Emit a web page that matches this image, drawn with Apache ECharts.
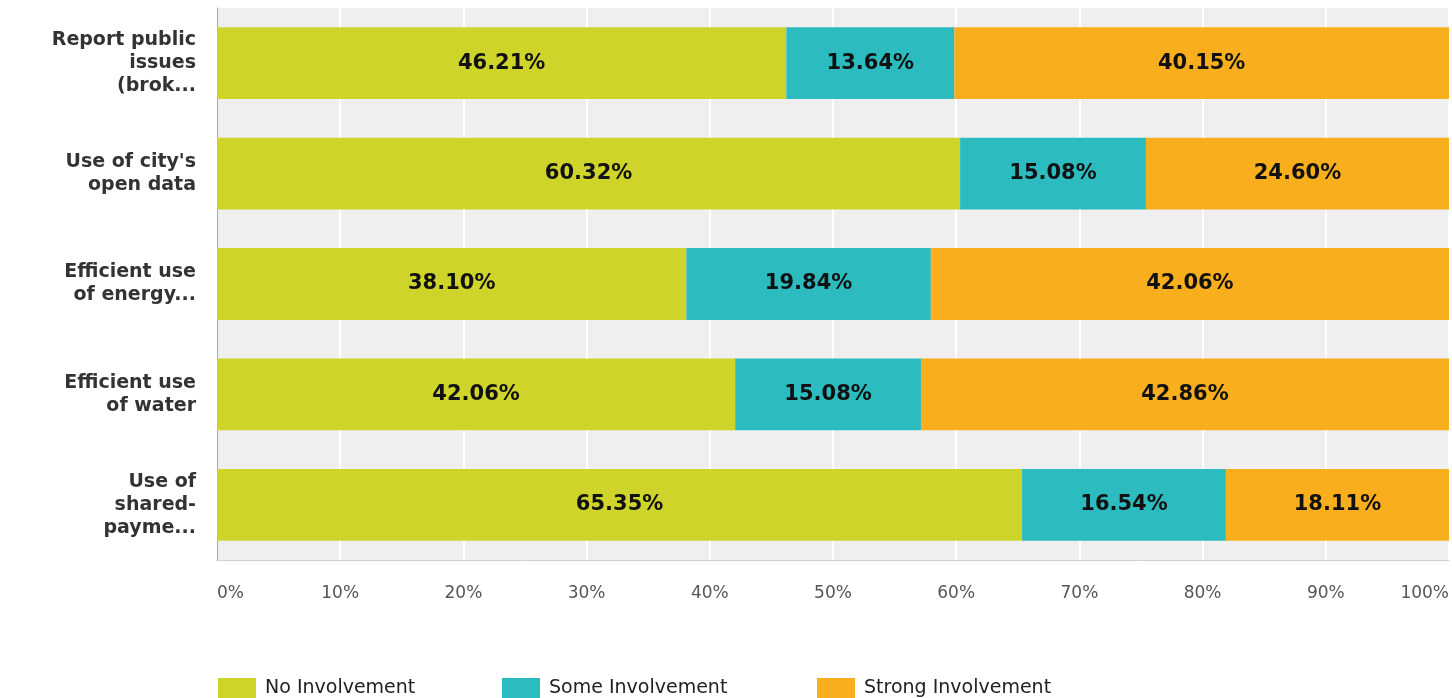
<!DOCTYPE html>
<html>
<head>
<meta charset="utf-8">
<script src="https://cdn.jsdelivr.net/npm/echarts@6/dist/echarts.min.js"></script>
<style>
  html, body { margin: 0; padding: 0; background: #fff; }
  #chart { width: 1452px; height: 698px; }
</style>
</head>
<body>
<div id="chart"></div>
<script>
// Survey topics (labels shown as they appear on the axis, wrapped and shortened)
const categories = [
  'Report public\nissues\n(brok...',
  "Use of city's\nopen data",
  'Efficient use\nof energy...',
  'Efficient use\nof water',
  'Use of\nshared-\npayme...'
];

// Share of respondents per level of involvement (%)
const noInvolvement     = [46.21, 60.32, 38.10, 42.06, 65.35];
const someInvolvement   = [13.64, 15.08, 19.84, 15.08, 16.54];
const strongInvolvement = [40.15, 24.60, 42.06, 42.86, 18.11];

const seriesNames = ['No Involvement', 'Some Involvement', 'Strong Involvement'];
const seriesColors = ['#cfd42a', '#2cbbbe', '#f9ae1d'];
const seriesValues = [noInvolvement, someInvolvement, strongInvolvement];
const legendLeft = [213, 497, 812];

const chart = echarts.init(document.getElementById('chart'));

const series = seriesNames.map((name, i) => ({
  name: name,
  type: 'bar',
  stack: 'total',
  data: seriesValues[i],
  barCategoryGap: '35%',
  itemStyle: { color: seriesColors[i] },
  label: {
    show: true,
    position: 'inside',
    formatter: p => p.value.toFixed(2) + '%',
    fontFamily: 'DejaVu Sans',
    fontWeight: 'bold',
    fontSize: 21,
    color: '#111'
  },
  emphasis: { disabled: true }
}));

chart.setOption({
  animation: false,
  backgroundColor: '#ffffff',
  grid: {
    left: 217,
    right: 2,
    top: 8,
    bottom: 138,
    show: true,
    backgroundColor: '#efefef',
    borderWidth: 0
  },
  legend: seriesNames.map((name, i) => ({
    data: [name],
    left: legendLeft[i],
    top: 673,
    itemWidth: 38,
    itemHeight: 21,
    itemGap: 0,
    icon: 'rect',
    selectedMode: false,
    textStyle: {
      fontFamily: 'DejaVu Sans',
      fontSize: 19,
      color: '#222',
      padding: [0, 0, 0, 4]
    }
  })),
  xAxis: {
    type: 'value',
    min: 0,
    max: 100,
    interval: 10,
    axisLine: { show: true, lineStyle: { color: '#cfcfd8', width: 1 } },
    axisTick: { show: false },
    splitLine: { show: true, lineStyle: { color: '#ffffff', width: 2 } },
    axisLabel: {
      formatter: '{value}%',
      margin: 25,
      fontFamily: 'DejaVu Sans',
      fontSize: 17,
      color: '#555',
      alignMinLabel: 'left',
      alignMaxLabel: 'right'
    }
  },
  yAxis: {
    type: 'category',
    data: categories,
    inverse: true,
    axisLine: { show: true, lineStyle: { color: '#a8a8a8', width: 1 } },
    axisTick: { show: false },
    splitLine: { show: false },
    axisLabel: {
      margin: 21,
      fontFamily: 'DejaVu Sans',
      fontWeight: 'bold',
      fontSize: 19,
      lineHeight: 23,
      color: '#333',
      align: 'right'
    }
  },
  series: series
});
</script>
</body>
</html>
